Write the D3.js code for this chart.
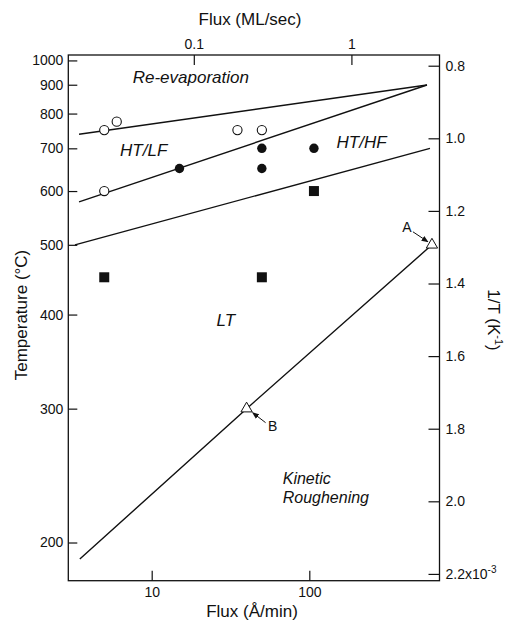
<!DOCTYPE html>
<html>
<head>
<meta charset="utf-8">
<script src="https://cdn.jsdelivr.net/npm/d3@7"></script>
<style>
  body { margin: 0; background: #fff; }
  svg { display: block; font-family: "Liberation Sans", Arial, Helvetica, sans-serif; }
</style>
</head>
<body>
<svg id="chart" width="506" height="621"></svg>
<script>
// flux in Å/min, temperature in °C
const openFlux = [5, 6, 5, 35, 50]
const openTemp = [750, 775, 600, 750, 750]
const fillFlux = [15, 50, 50, 107]
const fillTemp = [650, 700, 650, 700]
const squareFlux = [5, 50, 107]
const squareTemp = [450, 450, 600]
const triFlux = [600, 40]
const triTemp = [500, 300]
const triNames = ['A', 'B']

// boundary lines, [flux, temp]
const reEvapLine = [[3.46, 738], [558, 899]]
const hfLine = [[3.46, 578], [558, 899]]
const ltLine = [[3.26, 500], [583, 700]]
const kineticLine = [[3.5, 190], [40, 300], [600, 500]]

const tempTicks = [200, 300, 400, 500, 600, 700, 800, 900, 1000]
const invTTicks = [0.8, 1.0, 1.2, 1.4, 1.6, 1.8, 2.0, 2.2]
const fluxTicks = [10, 100]
const mlTicks = [0.1, 1]
const ANG_PER_ML = 185   // Å/min that make 1 ML/sec

const margin = {top: 55, right: 66.5, bottom: 40.3, left: 68.3}
const width = 506, height = 621
const svg = d3.select('#chart')

const inv = t => 1000 / (t + 273.15)   // 1/T in 1e-3 K^-1

// x scale (log flux)
const x = d3.scaleLog()
  .domain([2.957, 670])
  .range([margin.left, width - margin.right])
const xTop = d3.scaleLog()
  .domain([2.957 / ANG_PER_ML, 670 / ANG_PER_ML])
  .range([margin.left, width - margin.right])

// y scale (1/T, linear)
const y = d3.scaleLinear()
  .domain([0.7705, 2.2187])
  .range([margin.top, height - margin.bottom])
const yT = t => y(inv(t))

const ink = '#111'

// frame
svg.append('rect')
  .attr('x', margin.left).attr('y', margin.top)
  .attr('width', width - margin.left - margin.right)
  .attr('height', height - margin.top - margin.bottom)
  .attr('fill', 'none').attr('stroke', ink).attr('stroke-width', 1.3)

function styleAxis(g) {
  g.select('.domain').remove()
  g.selectAll('line').attr('stroke', ink).attr('stroke-width', 1.2)
  g.selectAll('text').attr('fill', ink).attr('font-size', 14)
}

// left axis: temperature
svg.append('g')
  .attr('transform', 'translate(' + margin.left + ',0)')
  .call(d3.axisLeft(y).tickValues(tempTicks.map(inv))
    .tickFormat((d, i) => tempTicks[i]).tickSize(-9).tickPadding(5))
  .call(styleAxis)

// right axis: 1/T
const rAxis = svg.append('g')
  .attr('transform', 'translate(' + (width - margin.right) + ',0)')
  .call(d3.axisRight(y).tickValues(invTTicks)
    .tickFormat(d3.format('.1f')).tickSize(-11).tickPadding(6))
  .call(styleAxis)
const lastTick = rAxis.selectAll('.tick text').filter(d => d === 2.2)
lastTick.text('2.2x10')
lastTick.append('tspan').attr('dy', -6).attr('font-size', 10).text('-3')

// bottom axis: flux Å/min
svg.append('g')
  .attr('transform', 'translate(0,' + (height - margin.bottom) + ')')
  .call(d3.axisBottom(x).tickValues(fluxTicks)
    .tickFormat(d3.format('d')).tickSize(-10).tickPadding(6))
  .call(styleAxis)

// top axis: flux ML/sec
svg.append('g')
  .attr('transform', 'translate(0,' + margin.top + ')')
  .call(d3.axisTop(xTop).tickValues(mlTicks)
    .tickFormat(d => d).tickSize(-10).tickPadding(6))
  .call(styleAxis)

// axis titles
svg.append('text')
  .attr('x', 250).attr('y', 25)
  .attr('text-anchor', 'middle').attr('font-size', 17).attr('fill', ink)
  .text('Flux (ML/sec)')
svg.append('text')
  .attr('x', 252).attr('y', 617)
  .attr('text-anchor', 'middle').attr('font-size', 17).attr('fill', ink)
  .text('Flux (Å/min)')
svg.append('text')
  .attr('transform', 'translate(27,315) rotate(-90)')
  .attr('text-anchor', 'middle').attr('font-size', 17).attr('fill', ink)
  .text('Temperature (°C)')
const rTitle = svg.append('text')
  .attr('transform', 'translate(488,320) rotate(90)')
  .attr('text-anchor', 'middle').attr('font-size', 17).attr('fill', ink)
rTitle.append('tspan').text('1/T (K')
rTitle.append('tspan').attr('dy', -7).attr('font-size', 11).text('-1')
rTitle.append('tspan').attr('dy', 7).text(')')

// boundary lines
const line = d3.line().x(d => x(d[0])).y(d => yT(d[1]))
svg.append('g')
  .attr('fill', 'none').attr('stroke', ink).attr('stroke-width', 1.4)
  .selectAll('path')
  .data([reEvapLine, hfLine, ltLine, kineticLine])
  .join('path')
    .attr('d', line)

// open circles
svg.append('g')
  .selectAll('circle')
  .data(openFlux)
  .join('circle')
    .attr('cx', d => x(d))
    .attr('cy', (d, i) => yT(openTemp[i]))
    .attr('r', 4.6)
    .attr('fill', '#fff').attr('stroke', ink).attr('stroke-width', 1.1)

// filled circles
svg.append('g')
  .selectAll('circle')
  .data(fillFlux)
  .join('circle')
    .attr('cx', d => x(d))
    .attr('cy', (d, i) => yT(fillTemp[i]))
    .attr('r', 4.7)
    .attr('fill', ink)

// filled squares
svg.append('g')
  .selectAll('rect')
  .data(squareFlux)
  .join('rect')
    .attr('x', d => x(d) - 5)
    .attr('y', (d, i) => yT(squareTemp[i]) - 5)
    .attr('width', 10).attr('height', 10)
    .attr('fill', ink)

// triangles A and B
const tri = d3.symbol().type(d3.symbolTriangle).size(55)
svg.append('g')
  .selectAll('path')
  .data(triFlux)
  .join('path')
    .attr('transform', (d, i) => 'translate(' + x(d) + ',' + yT(triTemp[i]) + ')')
    .attr('d', tri)
    .attr('fill', '#fff').attr('stroke', ink).attr('stroke-width', 1)

// arrow labels for A and B
svg.append('defs').append('marker')
  .attr('id', 'head').attr('viewBox', '0 0 10 10')
  .attr('refX', 9).attr('refY', 5)
  .attr('markerWidth', 7).attr('markerHeight', 7)
  .attr('orient', 'auto-start-reverse')
  .append('path').attr('d', 'M0,1L10,5L0,9Z').attr('fill', ink)

const annot = [
  {lab: [-25, -13], from: [-19, -13], to: [-4, -3]},
  {lab: [26, 22], from: [19, 14], to: [6, 4]}
]
triNames.forEach((name, i) => {
  const cx = x(triFlux[i]), cy = yT(triTemp[i]), a = annot[i]
  svg.append('line')
    .attr('x1', cx + a.from[0]).attr('y1', cy + a.from[1])
    .attr('x2', cx + a.to[0]).attr('y2', cy + a.to[1])
    .attr('stroke', ink).attr('stroke-width', 1)
    .attr('marker-end', 'url(#head)')
  svg.append('text')
    .attr('x', cx + a.lab[0]).attr('y', cy + a.lab[1])
    .attr('text-anchor', 'middle').attr('font-size', 14).attr('fill', ink)
    .text(name)
})

// region labels, placed in data coordinates
const regions = [
  ['Re-evaporation', 7.58, 905, 17],
  ['HT/LF', 6.3, 680, 17],
  ['HT/HF', 149, 700, 17],
  ['LT', 25.8, 386, 17],
  ['Kinetic', 67.8, 239, 16],
  ['Roughening', 67.8, 226, 16]
]
svg.append('g')
  .selectAll('text')
  .data(regions)
  .join('text')
    .attr('x', d => x(d[1]))
    .attr('y', d => yT(d[2]))
    .attr('font-size', d => d[3]).attr('font-style', 'italic').attr('fill', ink)
    .text(d => d[0])
</script>
</body>
</html>
